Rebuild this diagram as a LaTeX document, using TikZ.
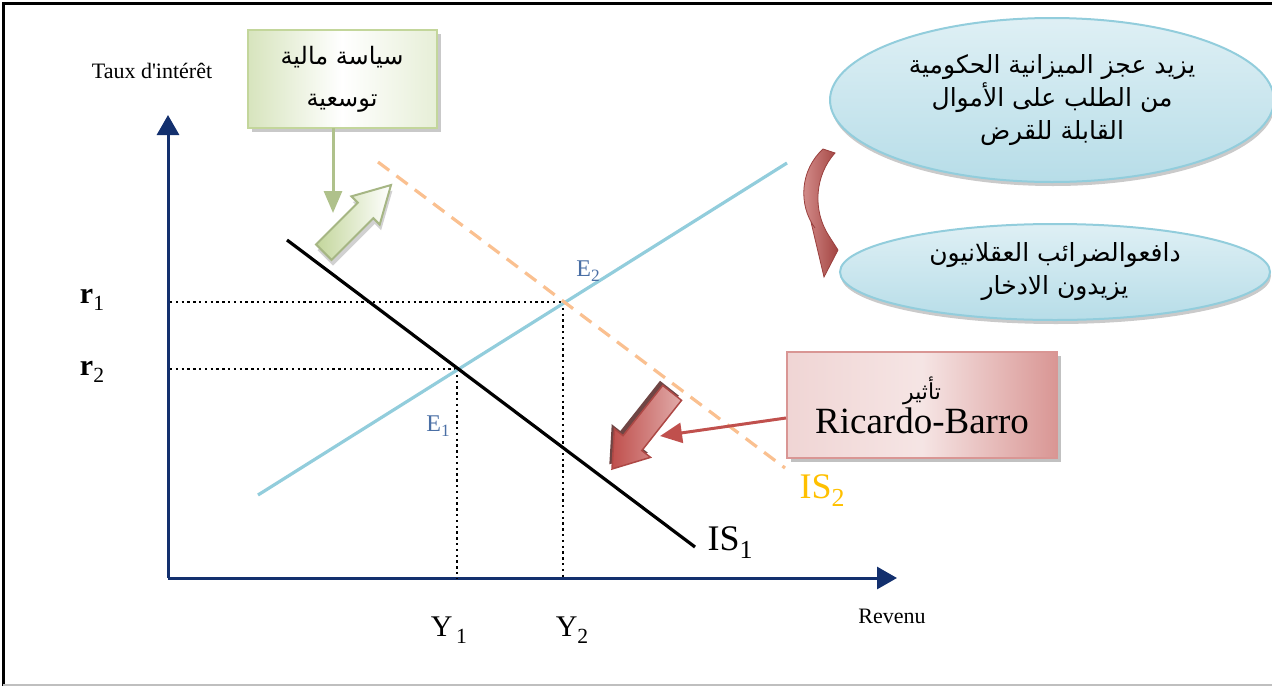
\documentclass[tikz,border=0pt]{standalone}
\usepackage{fontspec}
\setmainfont{Liberation Serif}
\newfontfamily\arabicfont[Script=Arabic]{DejaVu Sans}
\TeXXeTstate=1
\usetikzlibrary{shadows,shapes.geometric,arrows.meta}
\definecolor{axisblue}{HTML}{13306E}
\definecolor{lmblue}{HTML}{92CDDC}
\definecolor{isorange}{HTML}{FAC090}
\definecolor{islabel}{HTML}{FFC000}
\definecolor{elabel}{HTML}{4A6FA5}
\definecolor{gfill}{HTML}{D7E4BD}
\definecolor{gline}{HTML}{C3D69B}
\definecolor{rfill}{HTML}{D99694}
\definecolor{rline}{HTML}{C0504D}
\definecolor{bfill}{HTML}{B7DDE8}
\newcommand{\lsub}[1]{\raisebox{-0.22em}{\scalebox{0.72}{#1}}}
\tikzset{
  axisline/.style={line width=3pt, color=axisblue, -{Triangle[width=22pt,length=20pt]}},
  guide/.style={line width=2.4pt, dash pattern=on 2.4pt off 3.4pt, color=black},
  bubble/.style={ellipse, draw=lmblue, line width=2pt, inner sep=0pt,
     top color=bfill!45, bottom color=bfill, drop shadow={shadow xshift=1pt, shadow yshift=-4pt, fill=gray!70, opacity=0.6},
     align=center, font=\arabicfont\fontsize{25}{33}\selectfont},
  gbox/.style={rectangle, draw=gline, line width=2pt, inner sep=0pt,
     left color=gfill, right color=gfill!60, middle color=white,
     drop shadow={shadow xshift=4pt, shadow yshift=-4pt, fill=gray!60, opacity=0.7},
     align=center},
  rbox/.style={rectangle, draw=rfill, line width=2pt, inner sep=0pt,
     left color=rfill!40, right color=rfill, middle color=rfill!25,
     drop shadow={shadow xshift=4pt, shadow yshift=-4pt, fill=gray!70, opacity=0.7},
     align=center},
}
\begin{document}
\begin{tikzpicture}[x=1pt,y=-1pt]
\useasboundingbox (0,0) rectangle (1272,686);
% frame
\draw[line width=3pt] (3,686) -- (3,3) -- (1272,3);
\draw[line width=2pt, gray!50] (3,685) -- (1272,685);

% axes
\coordinate (O) at (168,578);
\coordinate (ytip) at (168,115);
\coordinate (xtip) at (897,578);
\draw[axisline] (O) -- (ytip);
\draw[axisline] (O) -- (xtip);
\node[font=\fontsize{22}{24}\selectfont] (ylab) at (152,71) {Taux d\textquotesingle intérêt};
\node[font=\fontsize{22}{24}\selectfont] (xlab) at (892,616) {Revenu};

% equilibrium points
\coordinate (E1) at (457,369);
\coordinate (E2) at (563,302);
\coordinate (r1a) at (170,302);
\coordinate (r2a) at (170,369);
\coordinate (Y1a) at (457,578);
\coordinate (Y2a) at (563,578);
\draw[guide] (r1a) -- (E2);
\draw[guide] (r2a) -- (E1);
\draw[guide] (E1) -- (Y1a);
\draw[guide] (E2) -- (Y2a);

% curves
\coordinate (is1a) at (287,240);
\coordinate (is1b) at (695,547);
\coordinate (lma) at (258,495);
\coordinate (lmb) at (787,163);
\coordinate (is2a) at (378,162);
\coordinate (is2b) at (785,468);
\draw[line width=3.2pt, lmblue] (lma) -- (lmb);
\draw[line width=3.2pt, black] (is1a) -- (is1b);
\draw[line width=3.2pt, isorange, dash pattern=on 14pt off 9pt] (is2a) -- (is2b);

% labels
\node[font=\bfseries\fontsize{30}{32}\selectfont] (r1) at (92,300) {r\lsub{\mdseries 1}};
\node[font=\bfseries\fontsize{30}{32}\selectfont] (r2) at (92,372) {r\lsub{\mdseries 2}};
\node[font=\fontsize{30}{32}\selectfont] (Y1) at (449,630) {Y\lsub{\,1}};
\node[font=\fontsize{30}{32}\selectfont] (Y2) at (572,630) {Y\lsub{2}};
\node[font=\fontsize{24}{26}\selectfont, elabel] (E2l) at (588,271) {E\lsub{2}};
\node[font=\fontsize{24}{26}\selectfont, elabel] (E1l) at (438,426) {E\lsub{1}};
\node[font=\fontsize{36}{38}\selectfont] (IS1) at (730,543) {IS\lsub{1}};
\node[font=\fontsize{36}{38}\selectfont, islabel] (IS2) at (822,491) {IS\lsub{2}};

% green policy box
\node[gbox, minimum width=189pt, minimum height=98pt,
      font=\arabicfont\fontsize{24}{42}\selectfont] (gb) at (342,79)
      {\beginR سياسة مالية\endR\\ \beginR توسعية\endR};
\coordinate (gtip) at (333,213);
\draw[line width=3pt, gline!90!black, -{Triangle[width=18pt,length=22pt]}] (333,128) -- (gtip);
% green block arrow
\begin{scope}[shift={(391,185)}, rotate=45]
  \fill[gray!60, opacity=0.6, shift={(-3pt,-5pt)}]
    (0,0) -- (-36,20) -- (-36,11) -- (-95,11) -- (-95,-11) -- (-36,-11) -- (-36,-20) -- cycle;
  \shade[left color=gline, right color=white, draw=gline!85!black, line width=2pt, line join=miter]
    (0,0) -- (-36,20) -- (-36,11) -- (-95,11) -- (-95,-11) -- (-36,-11) -- (-36,-20) -- cycle;
\end{scope}

% blue bubbles
\node[bubble, minimum width=444pt, minimum height=164pt] (b1) at (1052,100)
  {\beginR يزيد عجز الميزانية الحكومية\endR\\
   \beginR من الطلب على الأموال\endR\\
   \beginR القابلة للقرض\endR};
\node[bubble, minimum width=430pt, minimum height=96pt] (b2) at (1055,272)
  {\beginR دافعوالضرائب العقلانيون\endR\\
   \beginR يزيدون الادخار\endR};

% red curved arrow
\shade[left color=rline!60, right color=rline!85!black, draw=rline!80!black, line width=0.8pt]
  (823,149) .. controls (800,170) and (798,205) .. (815,228)
  -- (811,222) -- (824,277) -- (838,250) -- (829,236)
  .. controls (812,210) and (815,175) .. (835,153) -- cycle;

% red Ricardo-Barro box
\node[rbox, minimum width=270pt, minimum height=106pt] (rb) at (922,405)
  {{\arabicfont\fontsize{22}{24}\selectfont\beginR تأثير\endR}\\[2pt]
   {\fontsize{37}{40}\selectfont Ricardo-Barro}};
\coordinate (rtip) at (660,436);
\draw[line width=3pt, rline, -{Triangle[width=20pt,length=22pt]}] (rb.west |- 0,418) -- (rtip);
% red block arrow
\begin{scope}[shift={(612,469)}, rotate=231.7]
  \fill[rline!45!black, opacity=0.85, shift={(-2pt,-5pt)}]
    (0,0) -- (-33,23) -- (-33,12) -- (-97,12) -- (-97,-12) -- (-33,-12) -- (-33,-23) -- cycle;
  \shade[left color=rline, right color=rfill!80, draw=rline!90!black, line width=1.5pt, line join=miter]
    (0,0) -- (-33,23) -- (-33,12) -- (-97,12) -- (-97,-12) -- (-33,-12) -- (-33,-23) -- cycle;
\end{scope}
\end{tikzpicture}
\end{document}
